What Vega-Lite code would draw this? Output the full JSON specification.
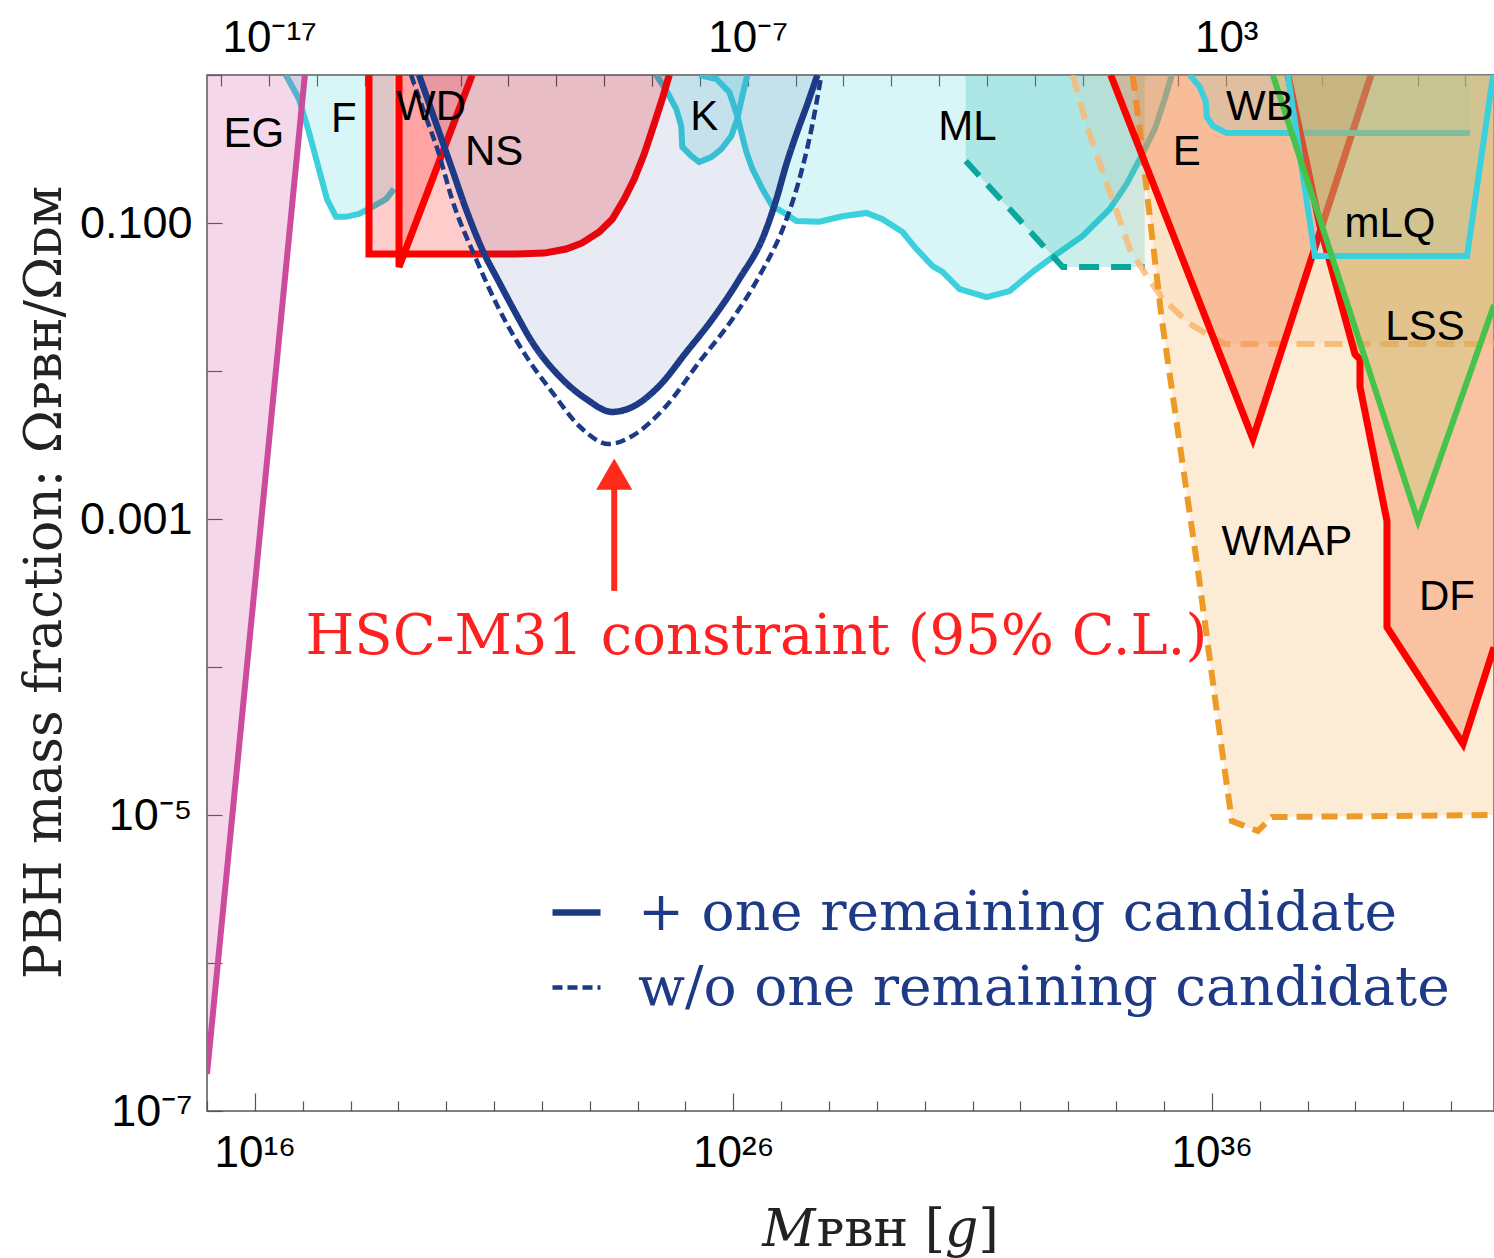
{
  "$schema": "https://vega.github.io/schema/vega-lite/v6.json",
  "width": 1287,
  "height": 1036,
  "autosize": {"type": "none"},
  "padding": {"left": 207, "top": 75, "right": 0, "bottom": 147},
  "background": "white",
  "config": {"view": {"stroke": "#555555", "strokeWidth": 1.5}, "axis": {"domain": false, "grid": false}},
  "resolve": {"axis": {"x": "independent"}},
  "datasets": {
    "pts": [
      {"s":"F","i":0,"m":4.46e16,"f":1},
      {"s":"F","i":1,"m":8.34e16,"f":0.689},
      {"s":"F","i":2,"m":1.35e17,"f":0.412},
      {"s":"F","i":3,"m":2.18e17,"f":0.232},
      {"s":"F","i":4,"m":3.21e17,"f":0.145},
      {"s":"F","i":5,"m":4.95e17,"f":0.11},
      {"s":"F","i":6,"m":8.02e17,"f":0.11},
      {"s":"F","i":7,"m":1.5e18,"f":0.115},
      {"s":"F","i":8,"m":2.81e18,"f":0.128},
      {"s":"F","i":9,"m":5.51e18,"f":0.145},
      {"s":"F","i":10,"m":8.09e18,"f":0.17},
      {"s":"F","i":11,"m":8.09e18,"f":1,"c":1},
      {"s":"EG","i":0,"m":1.11e17,"f":1},
      {"s":"EG","i":1,"m":1e15,"f":1.78e-7},
      {"s":"EG","i":2,"m":1e15,"f":1,"c":1},
      {"s":"ML","i":0,"m":1.94e25,"f":1},
      {"s":"ML","i":1,"m":4.41e25,"f":0.94},
      {"s":"ML","i":2,"m":8.24e25,"f":0.767},
      {"s":"ML","i":3,"m":1.21e26,"f":0.528},
      {"s":"ML","i":4,"m":1.54e26,"f":0.387},
      {"s":"ML","i":5,"m":1.87e26,"f":0.302},
      {"s":"ML","i":6,"m":2.5e26,"f":0.232},
      {"s":"ML","i":7,"m":4.04e26,"f":0.17},
      {"s":"ML","i":8,"m":6.55e26,"f":0.13},
      {"s":"ML","i":9,"m":1.06e27,"f":0.119},
      {"s":"ML","i":10,"m":2.08e27,"f":0.103},
      {"s":"ML","i":11,"m":6.3e27,"f":0.102},
      {"s":"ML","i":12,"m":1.91e28,"f":0.111},
      {"s":"ML","i":13,"m":6.06e28,"f":0.117},
      {"s":"ML","i":14,"m":1.31e29,"f":0.106},
      {"s":"ML","i":15,"m":3.44e29,"f":0.0869},
      {"s":"ML","i":16,"m":6.73e29,"f":0.0667},
      {"s":"ML","i":17,"m":1.46e30,"f":0.0512},
      {"s":"ML","i":18,"m":2.36e30,"f":0.0467},
      {"s":"ML","i":19,"m":5.35e30,"f":0.0358},
      {"s":"ML","i":20,"m":1.96e31,"f":0.0316},
      {"s":"ML","i":21,"m":5.94e31,"f":0.0347},
      {"s":"ML","i":22,"m":1.8e32,"f":0.0467},
      {"s":"ML","i":23,"m":4.72e32,"f":0.0589},
      {"s":"ML","i":24,"m":2e33,"f":0.0817},
      {"s":"ML","i":25,"m":7.35e33,"f":0.124},
      {"s":"ML","i":26,"m":1.67e34,"f":0.184},
      {"s":"ML","i":27,"m":3.12e34,"f":0.27},
      {"s":"ML","i":28,"m":6.43e34,"f":0.431},
      {"s":"ML","i":29,"m":1.04e35,"f":0.689},
      {"s":"ML","i":30,"m":1.46e35,"f":1},
      {"s":"T","i":0,"m":7.2e30,"f":0.262},
      {"s":"T","i":1,"m":7.64e32,"f":0.0504},
      {"s":"T","i":2,"m":3.96e34,"f":0.0504},
      {"s":"T","i":3,"m":3.96e34,"f":1,"c":1},
      {"s":"T","i":4,"m":7.2e30,"f":1,"c":1},
      {"s":"K","i":0,"m":2.45e24,"f":1},
      {"s":"K","i":1,"m":4.16e24,"f":0.767},
      {"s":"K","i":2,"m":6.43e24,"f":0.589},
      {"s":"K","i":3,"m":8.17e24,"f":0.452},
      {"s":"K","i":4,"m":8.58e24,"f":0.327},
      {"s":"K","i":5,"m":1.32e25,"f":0.284},
      {"s":"K","i":6,"m":1.94e25,"f":0.258},
      {"s":"K","i":7,"m":3.47e25,"f":0.279},
      {"s":"K","i":8,"m":5.61e25,"f":0.316},
      {"s":"K","i":9,"m":9.08e25,"f":0.387},
      {"s":"K","i":10,"m":1.21e26,"f":0.505},
      {"s":"K","i":11,"m":1.54e26,"f":0.721},
      {"s":"K","i":12,"m":1.96e26,"f":1},
      {"s":"NS","i":0,"m":2.43e18,"f":1},
      {"s":"NS","i":1,"m":2.43e18,"f":0.0618},
      {"s":"NS","i":2,"m":2.88e21,"f":0.0618},
      {"s":"NS","i":3,"m":1.11e22,"f":0.0626},
      {"s":"NS","i":4,"m":3.21e22,"f":0.0667},
      {"s":"NS","i":5,"m":6.93e22,"f":0.0733},
      {"s":"NS","i":6,"m":1.57e23,"f":0.0869},
      {"s":"NS","i":7,"m":2.94e23,"f":0.106},
      {"s":"NS","i":8,"m":5.25e23,"f":0.145},
      {"s":"NS","i":9,"m":8.49e23,"f":0.198},
      {"s":"NS","i":10,"m":1.37e24,"f":0.292},
      {"s":"NS","i":11,"m":2.22e24,"f":0.467},
      {"s":"NS","i":12,"m":3.27e24,"f":0.689},
      {"s":"NS","i":13,"m":4.58e24,"f":1},
      {"s":"WD","i":0,"m":1.03e19,"f":1},
      {"s":"WD","i":1,"m":1.03e19,"f":0.0504},
      {"s":"WD","i":2,"m":3.47e20,"f":1},
      {"s":"HSC","case":"+ one remaining candidate","i":0,"m":2.7e19,"f":1},
      {"s":"HSC","case":"+ one remaining candidate","i":1,"m":5.05e19,"f":0.562},
      {"s":"HSC","case":"+ one remaining candidate","i":2,"m":1.32e20,"f":0.232},
      {"s":"HSC","case":"+ one remaining candidate","i":3,"m":2.59e20,"f":0.124},
      {"s":"HSC","case":"+ one remaining candidate","i":4,"m":5.61e20,"f":0.0667},
      {"s":"HSC","case":"+ one remaining candidate","i":5,"m":1.27e21,"f":0.0399},
      {"s":"HSC","case":"+ one remaining candidate","i":6,"m":2.88e21,"f":0.0243},
      {"s":"HSC","case":"+ one remaining candidate","i":7,"m":6.24e21,"f":0.0157},
      {"s":"HSC","case":"+ one remaining candidate","i":8,"m":2.29e22,"f":0.00925},
      {"s":"HSC","case":"+ one remaining candidate","i":9,"m":8.41e22,"f":0.00647},
      {"s":"HSC","case":"+ one remaining candidate","i":10,"m":2.94e23,"f":0.00529},
      {"s":"HSC","case":"+ one remaining candidate","i":11,"m":7.71e23,"f":0.00571},
      {"s":"HSC","case":"+ one remaining candidate","i":12,"m":2.83e24,"f":0.00793},
      {"s":"HSC","case":"+ one remaining candidate","i":13,"m":1.04e25,"f":0.0134},
      {"s":"HSC","case":"+ one remaining candidate","i":14,"m":3.64e25,"f":0.0224},
      {"s":"HSC","case":"+ one remaining candidate","i":15,"m":1.34e26,"f":0.0419},
      {"s":"HSC","case":"+ one remaining candidate","i":16,"m":4.46e26,"f":0.0843},
      {"s":"HSC","case":"+ one remaining candidate","i":17,"m":7.94e26,"f":0.145},
      {"s":"HSC","case":"+ one remaining candidate","i":18,"m":1.29e27,"f":0.251},
      {"s":"HSC","case":"+ one remaining candidate","i":19,"m":2.08e27,"f":0.399},
      {"s":"HSC","case":"+ one remaining candidate","i":20,"m":3.53e27,"f":0.637},
      {"s":"HSC","case":"+ one remaining candidate","i":21,"m":5.71e27,"f":1},
      {"s":"HSCd","case":"w/o one remaining candidate","i":0,"m":1.84e19,"f":1},
      {"s":"HSCd","case":"w/o one remaining candidate","i":1,"m":3.44e19,"f":0.562},
      {"s":"HSCd","case":"w/o one remaining candidate","i":2,"m":7.06e19,"f":0.292},
      {"s":"HSCd","case":"w/o one remaining candidate","i":3,"m":1.32e20,"f":0.145},
      {"s":"HSCd","case":"w/o one remaining candidate","i":4,"m":4.2e20,"f":0.0571},
      {"s":"HSCd","case":"w/o one remaining candidate","i":5,"m":1.27e21,"f":0.0262},
      {"s":"HSCd","case":"w/o one remaining candidate","i":6,"m":4.67e21,"f":0.0126},
      {"s":"HSCd","case":"w/o one remaining candidate","i":7,"m":1.63e22,"f":0.00721},
      {"s":"HSCd","case":"w/o one remaining candidate","i":8,"m":6e22,"f":0.00425},
      {"s":"HSCd","case":"w/o one remaining candidate","i":9,"m":2.55e23,"f":0.00321},
      {"s":"HSCd","case":"w/o one remaining candidate","i":10,"m":7.71e23,"f":0.00364},
      {"s":"HSCd","case":"w/o one remaining candidate","i":11,"m":3.96e24,"f":0.00581},
      {"s":"HSCd","case":"w/o one remaining candidate","i":12,"m":1.94e25,"f":0.0115},
      {"s":"HSCd","case":"w/o one remaining candidate","i":13,"m":9.53e25,"f":0.0224},
      {"s":"HSCd","case":"w/o one remaining candidate","i":14,"m":3.5e26,"f":0.0439},
      {"s":"HSCd","case":"w/o one remaining candidate","i":15,"m":1.29e27,"f":0.106},
      {"s":"HSCd","case":"w/o one remaining candidate","i":16,"m":2.4e27,"f":0.198},
      {"s":"HSCd","case":"w/o one remaining candidate","i":17,"m":4.29e27,"f":0.431},
      {"s":"HSCd","case":"w/o one remaining candidate","i":18,"m":6.93e27,"f":1},
      {"s":"P","i":0,"m":1.24e33,"f":1},
      {"s":"P","i":1,"m":2.43e33,"f":0.452},
      {"s":"P","i":2,"m":4.54e33,"f":0.251},
      {"s":"P","i":3,"m":1.03e34,"f":0.119},
      {"s":"P","i":4,"m":1.93e34,"f":0.0667},
      {"s":"P","i":5,"m":4.37e34,"f":0.0439},
      {"s":"P","i":6,"m":9.44e34,"f":0.0306},
      {"s":"P","i":7,"m":3.47e35,"f":0.0208},
      {"s":"P","i":8,"m":1.27e36,"f":0.0162},
      {"s":"P","i":9,"m":1.87e36,"f":0.0152},
      {"s":"P","i":10,"m":7.9e41,"f":0.0152},
      {"s":"P","i":11,"m":7.9e41,"f":1,"c":1},
      {"s":"W","i":0,"m":2.22e34,"f":1},
      {"s":"W","i":1,"m":3.12e34,"f":0.431},
      {"s":"W","i":2,"m":4.58e34,"f":0.145},
      {"s":"W","i":3,"m":6.43e34,"f":0.0571},
      {"s":"W","i":4,"m":9e34,"f":0.0224},
      {"s":"W","i":5,"m":1.46e35,"f":0.00755},
      {"s":"W","i":6,"m":2.72e35,"f":0.00186},
      {"s":"W","i":7,"m":5.09e35,"f":4.59e-4},
      {"s":"W","i":8,"m":9.08e35,"f":1.13e-4},
      {"s":"W","i":9,"m":1.62e36,"f":2.79e-5},
      {"s":"W","i":10,"m":2.62e36,"f":9.1e-6},
      {"s":"W","i":11,"m":9.16e36,"f":7.79e-6},
      {"s":"W","i":12,"m":1.8e37,"f":9.68e-6},
      {"s":"W","i":13,"m":7.9e41,"f":1e-5},
      {"s":"W","i":14,"m":7.9e41,"f":1,"c":1},
      {"s":"E","i":0,"m":7.71e33,"f":1},
      {"s":"E","i":1,"m":7.21e36,"f":0.00348},
      {"s":"E","i":2,"m":2.12e39,"f":1},
      {"s":"WB","i":0,"m":3.47e35,"f":1},
      {"s":"WB","i":1,"m":5.61e35,"f":0.83},
      {"s":"WB","i":2,"m":7.48e35,"f":0.658},
      {"s":"WB","i":3,"m":7.85e35,"f":0.52},
      {"s":"WB","i":4,"m":1.05e36,"f":0.452},
      {"s":"WB","i":5,"m":2.06e36,"f":0.405},
      {"s":"WB","i":6,"m":2.49e41,"f":0.405},
      {"s":"WB","i":7,"m":2.49e41,"f":1,"c":1},
      {"s":"DF","i":0,"m":3.89e37,"f":1},
      {"s":"DF","i":1,"m":1.82e38,"f":0.0955},
      {"s":"DF","i":2,"m":9.82e38,"f":0.013},
      {"s":"DF","i":3,"m":1.25e39,"f":0.012},
      {"s":"DF","i":4,"m":1.25e39,"f":0.0078},
      {"s":"DF","i":5,"m":4.58e39,"f":9.68e-4},
      {"s":"DF","i":6,"m":4.58e39,"f":1.86e-4},
      {"s":"DF","i":7,"m":1.78e41,"f":3.02e-5},
      {"s":"DF","i":8,"m":7.9e41,"f":1.36e-4},
      {"s":"DF","i":9,"m":7.9e41,"f":1,"c":1},
      {"s":"LSS","i":0,"m":1.89e37,"f":1},
      {"s":"LSS","i":1,"m":2.04e40,"f":9.68e-4},
      {"s":"LSS","i":2,"m":7.9e41,"f":0.0279},
      {"s":"LSS","i":3,"m":7.9e41,"f":1,"c":1},
      {"s":"mLQ","i":0,"m":3.89e37,"f":1},
      {"s":"mLQ","i":1,"m":1.43e38,"f":0.0598},
      {"s":"mLQ","i":2,"m":2.16e41,"f":0.0598},
      {"s":"mLQ","i":3,"m":7.57e41,"f":1}
    ],
    "labels": [
      {"t":"EG","m":9.53e15,"f":0.399},
      {"t":"F","m":7.28e17,"f":0.505},
      {"t":"WD","m":4.81e19,"f":0.608},
      {"t":"NS","m":1e21,"f":0.302},
      {"t":"K","m":2.47e25,"f":0.52},
      {"t":"ML","m":7.85e30,"f":0.446},
      {"t":"E","m":3e35,"f":0.302},
      {"t":"WB","m":1.01e37,"f":0.608},
      {"t":"mLQ","m":5.3e39,"f":0.0985},
      {"t":"LSS","m":2.86e40,"f":0.0198},
      {"t":"WMAP","m":3.71e37,"f":7e-4},
      {"t":"DF","m":8.24e40,"f":2.97e-4}
    ]
  },
  "encoding": {
    "x": {"field": "m", "type": "quantitative", "scale": {"type": "log", "domain": [1e15, 7.9e41], "nice": false}, "axis": null},
    "y": {"field": "f", "type": "quantitative", "scale": {"type": "log", "domain": [1e-7, 1], "nice": false},
      "axis": {
        "orient": "left",
        "values": [1e-7,1e-6,1e-5,1e-4,1e-3,1e-2,1e-1,1],
        "labelExpr": "abs(log(datum.value)/LN10+1)<0.01 ? '0.100' : abs(log(datum.value)/LN10+3)<0.01 ? '0.001' : abs(log(datum.value)/LN10+5)<0.01 ? '10⁻⁵' : abs(log(datum.value)/LN10+7)<0.01 ? '10⁻⁷' : ''",
        "labelFont": "Liberation Sans", "labelFontSize": 45, "labelColor": "#000000", "labelPadding": 15,
        "labelOverlap": false, "labelFlush": false,
        "ticks": true, "tickSize": 0, "tickColor": "#555555", "tickWidth": 1.2,
        "encoding": {"ticks": {"x2": {"value": 15}}},
        "title": "PBH mass fraction: Ωᴘʙʜ/Ωᴅᴍ", "titleFont": "DejaVu Serif", "titleFontSize": 52, "titleFontWeight": "normal", "titleColor": "#222222",
        "titleX": -147, "titleY": 507, "titleAngle": 270, "titleBaseline": "alphabetic", "titleAlign": "center"
      }
    }
  },
  "layer": [
    {
      "data": {"name": "pts"},
      "transform": [{"filter": "datum.s=='F'"}],
      "mark": {"type": "line", "fill": "#3ccfdc", "fillOpacity": 0.2, "strokeOpacity": 0, "strokeWidth": 0, "clip": true},
      "encoding": {
        "order": {"field": "i"},
        "x": {"field": "m", "type": "quantitative", "scale": {"type": "log", "domain": [1e15, 7.9e41], "nice": false},
          "axis": {
            "orient": "bottom",
            "values": [1e15,1e16,1e17,1e18,1e19,1e20,1e21,1e22,1e23,1e24,1e25,1e26,1e27,1e28,1e29,1e30,1e31,1e32,1e33,1e34,1e35,1e36,1e37,1e38,1e39,1e40,1e41],
            "labelExpr": "abs(log(datum.value)/LN10-16)<0.01 ? '10¹⁶' : abs(log(datum.value)/LN10-26)<0.01 ? '10²⁶' : abs(log(datum.value)/LN10-36)<0.01 ? '10³⁶' : ''",
            "labelFont": "Liberation Sans", "labelFontSize": 44, "labelColor": "#000000", "labelPadding": 20,
            "labelOverlap": false, "labelFlush": false,
            "ticks": true, "tickSize": 0, "tickColor": "#555555", "tickWidth": 1.2,
            "encoding": {"ticks": {"y2": {"value": {"expr": "(abs(log(datum.value)/LN10-16)<0.01 || abs(log(datum.value)/LN10-26)<0.01 || abs(log(datum.value)/LN10-36)<0.01) ? -18 : -10"}}}},
            "title": "𝑀ᴘʙʜ [𝑔]", "titleFont": "DejaVu Serif", "titleFontSize": 52, "titleFontWeight": "normal", "titleColor": "#222222",
            "titleX": 673, "titleY": 134, "titleBaseline": "alphabetic", "titleAlign": "center"
          }
        }
      }
    },
    {
      "data": {"name": "pts"},
      "transform": [{"filter": "datum.s=='F' && datum.c!=1"}],
      "mark": {"type": "line", "color": "#3ccfdc", "strokeWidth": 6, "clip": true},
      "encoding": {
        "order": {"field": "i"},
        "x": {"field": "m", "type": "quantitative", "scale": {"type": "log", "domain": [1e15, 7.9e41], "nice": false},
          "axis": {
            "orient": "top",
            "values": [2e15,2e16,2e17,2e18,2e19,2e20,2e21,2e22,2e23,2e24,2e25,2e26,2e27,2e28,2e29,2e30,2e31,2e32,2e33,2e34,2e35,2e36,2e37,2e38,2e39,2e40,2e41],
            "labelExpr": "abs(log(datum.value)/LN10-16.301)<0.01 ? '10⁻¹⁷' : abs(log(datum.value)/LN10-26.301)<0.01 ? '10⁻⁷' : abs(log(datum.value)/LN10-36.301)<0.01 ? '10³' : ''",
            "labelFont": "Liberation Sans", "labelFontSize": 44, "labelColor": "#000000", "labelPadding": 15,
            "labelOverlap": false, "labelFlush": false,
            "ticks": true, "tickSize": 0, "tickColor": "#555555", "tickWidth": 1.2,
            "encoding": {"ticks": {"y2": {"value": 11}}},
            "title": null
          }
        }
      }
    },
    {
      "data": {"name": "pts"},
      "transform": [{"filter": "datum.s=='EG'"}],
      "mark": {"type": "line", "fill": "#cc4b9c", "fillOpacity": 0.22, "strokeOpacity": 0, "strokeWidth": 0, "clip": true},
      "encoding": {"order": {"field": "i"}}
    },
    {
      "data": {"name": "pts"},
      "transform": [{"filter": "datum.s=='EG' && datum.c!=1"}],
      "mark": {"type": "line", "color": "#cc4b9c", "strokeWidth": 6, "clip": true},
      "encoding": {"order": {"field": "i"}}
    },
    {
      "data": {"name": "pts"},
      "transform": [{"filter": "datum.s=='ML'"}],
      "mark": {"type": "line", "fill": "#3ccfdc", "fillOpacity": 0.2, "strokeOpacity": 0, "strokeWidth": 0, "clip": true},
      "encoding": {"order": {"field": "i"}}
    },
    {
      "data": {"name": "pts"},
      "transform": [{"filter": "datum.s=='ML'"}],
      "mark": {"type": "line", "color": "#3ccfdc", "strokeWidth": 6, "clip": true},
      "encoding": {"order": {"field": "i"}}
    },
    {
      "data": {"name": "pts"},
      "transform": [{"filter": "datum.s=='T'"}],
      "mark": {"type": "line", "fill": "#00a99d", "fillOpacity": 0.2, "strokeOpacity": 0, "strokeWidth": 0, "clip": true},
      "encoding": {"order": {"field": "i"}}
    },
    {
      "data": {"name": "pts"},
      "transform": [{"filter": "datum.s=='T' && datum.c!=1"}],
      "mark": {"type": "line", "color": "#0aa89c", "strokeWidth": 6, "strokeDash": [20, 12], "clip": true},
      "encoding": {"order": {"field": "i"}}
    },
    {
      "data": {"name": "pts"},
      "transform": [{"filter": "datum.s=='K'"}],
      "mark": {"type": "line", "fill": "#3ccfdc", "fillOpacity": 0.2, "strokeOpacity": 0, "strokeWidth": 0, "clip": true},
      "encoding": {"order": {"field": "i"}}
    },
    {
      "data": {"name": "pts"},
      "transform": [{"filter": "datum.s=='K'"}],
      "mark": {"type": "line", "color": "#3ccfdc", "strokeWidth": 6, "clip": true},
      "encoding": {"order": {"field": "i"}}
    },
    {
      "data": {"name": "pts"},
      "transform": [{"filter": "datum.s=='NS'"}],
      "mark": {"type": "line", "fill": "#ff0000", "fillOpacity": 0.2, "strokeOpacity": 0, "strokeWidth": 0, "clip": true},
      "encoding": {"order": {"field": "i"}}
    },
    {
      "data": {"name": "pts"},
      "transform": [{"filter": "datum.s=='NS'"}],
      "mark": {"type": "line", "color": "#ff0000", "strokeWidth": 7, "clip": true},
      "encoding": {"order": {"field": "i"}}
    },
    {
      "data": {"name": "pts"},
      "transform": [{"filter": "datum.s=='WD'"}],
      "mark": {"type": "line", "fill": "#ff0000", "fillOpacity": 0.2, "strokeOpacity": 0, "strokeWidth": 0, "clip": true},
      "encoding": {"order": {"field": "i"}}
    },
    {
      "data": {"name": "pts"},
      "transform": [{"filter": "datum.s=='WD'"}],
      "mark": {"type": "line", "color": "#ff0000", "strokeWidth": 7, "clip": true},
      "encoding": {"order": {"field": "i"}}
    },
    {
      "data": {"name": "pts"},
      "transform": [{"filter": "datum.s=='HSC'"}],
      "mark": {"type": "line", "fill": "#1d3a87", "fillOpacity": 0.1, "strokeOpacity": 0, "strokeWidth": 0, "interpolate": "monotone", "clip": true},
      "encoding": {"order": {"field": "i"}}
    },
    {
      "data": {"name": "pts"},
      "transform": [{"filter": "datum.s=='HSC' || datum.s=='HSCd'"}],
      "mark": {"type": "line", "color": "#1d3a87", "interpolate": "monotone", "clip": true},
      "encoding": {
        "order": {"field": "i"},
        "strokeDash": {"field": "case", "type": "nominal",
          "scale": {"domain": ["+ one remaining candidate", "w/o one remaining candidate"], "range": [[1, 0], [10, 5]]},
          "legend": {"orient": "none", "legendX": 342, "legendY": 810, "title": null, "padding": 0,
            "symbolType": "stroke", "symbolSize": 2304, "symbolStrokeWidth": 4, "symbolStrokeColor": "#1d3a87",
            "labelFont": "DejaVu Serif", "labelFontSize": 55, "labelColor": "#1d3a87", "labelOffset": 34, "labelLimit": 2000, "rowPadding": 19}},
        "strokeWidth": {"field": "case", "type": "nominal",
          "scale": {"domain": ["+ one remaining candidate", "w/o one remaining candidate"], "range": [6.5, 4.5]}, "legend": null}
      }
    },
    {
      "data": {"name": "pts"},
      "transform": [{"filter": "datum.s=='P'"}],
      "mark": {"type": "line", "fill": "#f8b070", "fillOpacity": 0.12, "strokeOpacity": 0, "strokeWidth": 0, "clip": true},
      "encoding": {"order": {"field": "i"}}
    },
    {
      "data": {"name": "pts"},
      "transform": [{"filter": "datum.s=='P' && datum.c!=1"}],
      "mark": {"type": "line", "color": "#fbb870", "strokeOpacity": 0.8, "strokeWidth": 6, "strokeDash": [18, 10], "clip": true},
      "encoding": {"order": {"field": "i"}}
    },
    {
      "data": {"name": "pts"},
      "transform": [{"filter": "datum.s=='W'"}],
      "mark": {"type": "line", "fill": "#f0a030", "fillOpacity": 0.2, "strokeOpacity": 0, "strokeWidth": 0, "clip": true},
      "encoding": {"order": {"field": "i"}}
    },
    {
      "data": {"name": "pts"},
      "transform": [{"filter": "datum.s=='W' && datum.c!=1"}],
      "mark": {"type": "line", "color": "#ee9a26", "strokeWidth": 6, "strokeDash": [16, 9], "clip": true},
      "encoding": {"order": {"field": "i"}}
    },
    {
      "data": {"name": "pts"},
      "transform": [{"filter": "datum.s=='E'"}],
      "mark": {"type": "line", "fill": "#f4713a", "fillOpacity": 0.34, "strokeOpacity": 0, "strokeWidth": 0, "clip": true},
      "encoding": {"order": {"field": "i"}}
    },
    {
      "data": {"name": "pts"},
      "transform": [{"filter": "datum.s=='E'"}],
      "mark": {"type": "line", "color": "#ff0000", "strokeWidth": 7, "clip": true},
      "encoding": {"order": {"field": "i"}}
    },
    {
      "data": {"name": "pts"},
      "transform": [{"filter": "datum.s=='WB'"}],
      "mark": {"type": "line", "fill": "#3ccfdc", "fillOpacity": 0.12, "strokeOpacity": 0, "strokeWidth": 0, "clip": true},
      "encoding": {"order": {"field": "i"}}
    },
    {
      "data": {"name": "pts"},
      "transform": [{"filter": "datum.s=='WB' && datum.c!=1"}],
      "mark": {"type": "line", "color": "#3ccfdc", "strokeWidth": 6, "clip": true},
      "encoding": {"order": {"field": "i"}}
    },
    {
      "data": {"name": "pts"},
      "transform": [{"filter": "datum.s=='DF'"}],
      "mark": {"type": "line", "fill": "#f4713a", "fillOpacity": 0.34, "strokeOpacity": 0, "strokeWidth": 0, "clip": true},
      "encoding": {"order": {"field": "i"}}
    },
    {
      "data": {"name": "pts"},
      "transform": [{"filter": "datum.s=='DF' && datum.c!=1"}],
      "mark": {"type": "line", "color": "#ff0000", "strokeWidth": 7, "clip": true},
      "encoding": {"order": {"field": "i"}}
    },
    {
      "data": {"name": "pts"},
      "transform": [{"filter": "datum.s=='mLQ'"}],
      "mark": {"type": "line", "fill": "#3ccfdc", "fillOpacity": 0.12, "strokeOpacity": 0, "strokeWidth": 0, "clip": true},
      "encoding": {"order": {"field": "i"}}
    },
    {
      "data": {"name": "pts"},
      "transform": [{"filter": "datum.s=='LSS'"}],
      "mark": {"type": "line", "fill": "#b0d070", "fillOpacity": 0.3, "strokeOpacity": 0, "strokeWidth": 0, "clip": true},
      "encoding": {"order": {"field": "i"}}
    },
    {
      "data": {"name": "pts"},
      "transform": [{"filter": "datum.s=='mLQ'"}],
      "mark": {"type": "line", "color": "#3ccfdc", "strokeWidth": 6, "clip": true},
      "encoding": {"order": {"field": "i"}}
    },
    {
      "data": {"name": "pts"},
      "transform": [{"filter": "datum.s=='LSS' && datum.c!=1"}],
      "mark": {"type": "line", "color": "#45c34b", "strokeWidth": 6, "clip": true},
      "encoding": {"order": {"field": "i"}}
    },
    {
      "data": {"name": "labels"},
      "mark": {"type": "text", "font": "Liberation Sans", "fontSize": 42, "color": "#000000", "align": "center", "baseline": "middle"},
      "encoding": {"text": {"field": "t"}}
    },
    {
      "data": {"values": [{"t": "HSC-M31 constraint (95% C.L.)", "m": 3.03e26, "f": 1.22e-4}]},
      "mark": {"type": "text", "font": "DejaVu Serif", "fontSize": 56, "color": "#ff2020", "align": "center", "baseline": "alphabetic"},
      "encoding": {"text": {"field": "t"}}
    },
    {
      "data": {"values": [{"m": 3.24e23, "f": 3.27e-4, "f2": 1.6e-3}]},
      "mark": {"type": "rule", "color": "#ff2a1a", "strokeWidth": 6},
      "encoding": {"y2": {"field": "f2"}}
    },
    {
      "data": {"values": [{"m": 3.24e23, "f": 2.01e-3}]},
      "mark": {"type": "point", "shape": "triangle-up", "filled": true, "color": "#ff2a1a", "size": 1300, "opacity": 1, "strokeWidth": 0},
      "encoding": {}
    }
  ]
}
